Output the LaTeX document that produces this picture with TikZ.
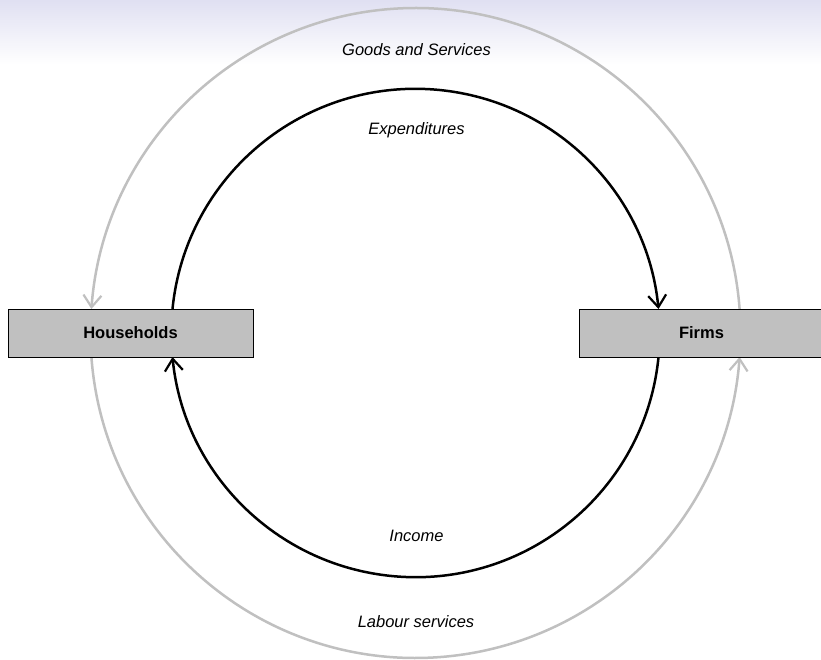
\documentclass[tikz,border=0pt]{standalone}
\usepackage{fontspec}
\setmainfont{Liberation Sans}
\usetikzlibrary{arrows.meta}
\definecolor{hdr}{RGB}{224,224,242}
\definecolor{ringgray}{RGB}{192,192,192}
\definecolor{boxgray}{RGB}{192,192,192}
\begin{document}
\begin{tikzpicture}[x=1pt,y=1pt,
  sector/.style={draw=black, line width=0.9pt, fill=boxgray, minimum width=245pt, minimum height=48pt, inner sep=0pt, font=\fontsize{16.5}{19}\selectfont\bfseries},
  lbl/.style={font=\fontsize{16.5}{19}\selectfont\itshape, inner sep=0pt},
  tip/.style={-{Straight Barb[length=12pt,width=18pt,line width=2.2pt]}},
  outerflow/.style={draw=ringgray, line width=2.5pt, tip},
  innerflow/.style={draw=black, line width=2.5pt, tip}]
\clip (0,0) rectangle (821,659);
\fill[white] (0,0) rectangle (821,659);
\shade[top color=hdr, bottom color=white] (0,594) rectangle (821,659);
\coordinate (c) at (415.5,326);
% outer ring: goods and services (firms -> households), labour services (households -> firms)
\draw[outerflow] ([shift={(4.235:325)}]c) arc[start angle=4.235, end angle=175.765, radius=325];
\draw[outerflow] ([shift={(184.235:325)}]c) arc[start angle=184.235, end angle=355.765, radius=325];
% inner ring: expenditures (households -> firms), income (firms -> households)
\draw[innerflow] ([shift={(174.36:244.2)}]c) arc[start angle=174.36, end angle=5.64, radius=244.2];
\draw[innerflow] ([shift={(-5.64:244.2)}]c) arc[start angle=-5.64, end angle=-174.36, radius=244.2];
\node[sector] (hh) at (130.5,326) {Households};
\node[sector] (firms) at (701.5,326) {Firms};
\node[lbl] (goods) at (416.5,609) {Goods and Services};
\node[lbl] (exp) at (416.5,529) {Expenditures};
\node[lbl] (inc) at (416.5,123) {Income};
\node[lbl] (lab) at (416,37) {Labour services};
\end{tikzpicture}
\end{document}
